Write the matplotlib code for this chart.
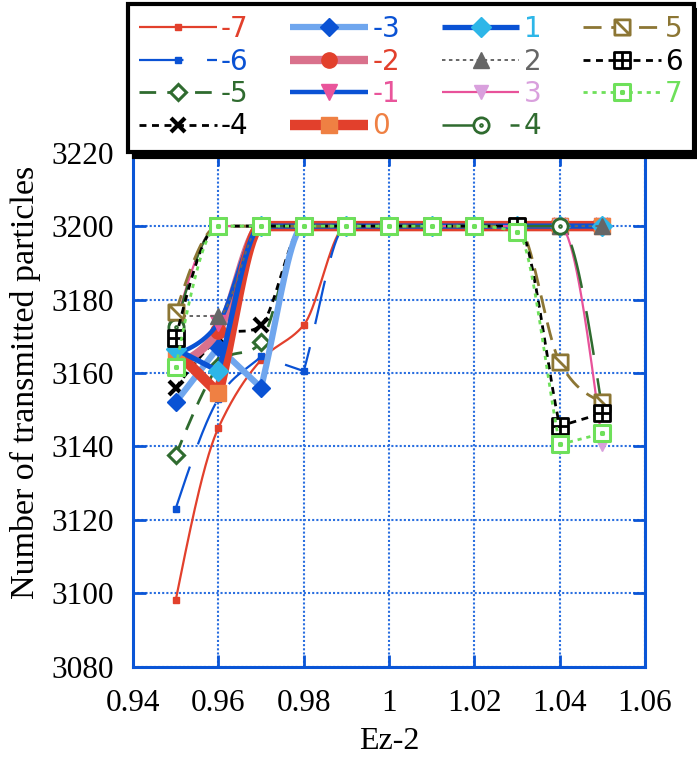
import numpy as np
import matplotlib
matplotlib.use("Agg")
import matplotlib.pyplot as plt
from matplotlib.path import Path
from matplotlib.lines import Line2D
from matplotlib.ticker import MultipleLocator, FuncFormatter

plt.rcParams['lines.scale_dashes'] = False
plt.rcParams['font.family'] = ['Liberation Serif', 'DejaVu Serif']

# Ez-2 scan points
ez = [0.95, 0.96, 0.97, 0.98, 0.99, 1.00, 1.01, 1.02, 1.03, 1.04, 1.05]

# transmitted particles for each setting (-7 ... 7)
n_m7 = [3098, 3145, 3163.5, 3173, 3200, 3200, 3200, 3200, 3200, 3200, 3200]
n_m6 = [3123, 3153, 3164.5, 3160.5, 3200, 3200, 3200, 3200, 3200, 3200, 3200]
n_m5 = [3137.5, 3162, 3168.5, 3200, 3200, 3200, 3200, 3200, 3200, 3200, 3200]
n_m4 = [3156, 3169.5, 3173, 3200, 3200, 3200, 3200, 3200, 3200, 3200, 3200]
n_m3 = [3152, 3167, 3156, 3200, 3200, 3200, 3200, 3200, 3200, 3200, 3200]
n_m2 = [3162, 3171.5, 3200, 3200, 3200, 3200, 3200, 3200, 3200, 3200, 3200]
n_m1 = [3165, 3173.5, 3200, 3200, 3200, 3200, 3200, 3200, 3200, 3200, 3200]
n_0 = [3166, 3154.5, 3200, 3200, 3200, 3200, 3200, 3200, 3200, 3200, 3200]
n_p1 = [3166.5, 3160.5, 3200, 3200, 3200, 3200, 3200, 3200, 3200, 3200, 3200]
n_p2 = [3175.5, 3175.5, 3200, 3200, 3200, 3200, 3200, 3200, 3200, 3200, 3200]
n_p3 = [3173.5, 3200, 3200, 3200, 3200, 3200, 3200, 3200, 3200, 3200, 3140.5]
n_p4 = [3172.5, 3200, 3200, 3200, 3200, 3200, 3200, 3200, 3200, 3200, 3150]
n_p5 = [3176.5, 3200, 3200, 3200, 3200, 3200, 3200, 3200, 3200, 3163, 3152]
n_p6 = [3169.5, 3200, 3200, 3200, 3200, 3200, 3200, 3200, 3200, 3145.5, 3149]
n_p7 = [3161.5, 3200, 3200, 3200, 3200, 3200, 3200, 3200, 3198.5, 3140.5, 3143.5]

labels = ['-7', '-6', '-5', '-4', '-3', '-2', '-1', '0',
          '1', '2', '3', '4', '5', '6', '7']
series = [n_m7, n_m6, n_m5, n_m4, n_m3, n_m2, n_m1, n_0,
          n_p1, n_p2, n_p3, n_p4, n_p5, n_p6, n_p7]


def smooth(x, y, num=40):
    # Akima-type curve: sharp corners at peaks/dips, flat next to flat runs
    x = np.asarray(x, float)
    y = np.asarray(y, float)
    n = len(x)
    d = np.diff(y) / np.diff(x)
    m = np.concatenate([[3 * d[0] - 2 * d[1], 2 * d[0] - d[1]], d,
                        [2 * d[-1] - d[-2], 3 * d[-1] - 2 * d[-2]]])
    tl = np.zeros(n)
    tr = np.zeros(n)
    for i in range(1, n - 1):
        ml, mr = d[i - 1], d[i]
        if ml * mr < 0:
            tl[i], tr[i] = ml, mr
            continue
        if ml == 0 or mr == 0:
            continue
        w1 = abs(m[i + 3] - m[i + 2])
        w2 = abs(m[i + 1] - m[i])
        t = 0.5 * (ml + mr) if w1 + w2 == 0 else (w1 * ml + w2 * mr) / (w1 + w2)
        tl[i] = tr[i] = t
    tr[0] = (3 * d[0] - tl[1]) / 2
    tl[-1] = (3 * d[-1] - tr[-2]) / 2
    xs, ys = [], []
    s = np.linspace(0, 1, num, endpoint=False)
    h00 = 2 * s**3 - 3 * s**2 + 1
    h10 = s**3 - 2 * s**2 + s
    h01 = -2 * s**3 + 3 * s**2
    h11 = s**3 - s**2
    for i in range(n - 1):
        h = x[i + 1] - x[i]
        xs.append(x[i] + s * h)
        ys.append(h00 * y[i] + h10 * h * tr[i] + h01 * y[i + 1] + h11 * h * tl[i + 1])
    xs.append([x[-1]])
    ys.append([y[-1]])
    return np.concatenate(xs), np.concatenate(ys)


# marker shapes
sq = [(-1, -1), (1, -1), (1, 1), (-1, 1), (-1, -1)]
sq_codes = [Path.MOVETO, Path.LINETO, Path.LINETO, Path.LINETO, Path.CLOSEPOLY]
box_diag = Path(sq + [(-1, 1), (1, -1)], sq_codes + [Path.MOVETO, Path.LINETO])
box_cross = Path(sq + [(0, -1), (0, 1), (-1, 0), (1, 0)],
                 sq_codes + [Path.MOVETO, Path.LINETO, Path.MOVETO, Path.LINETO])
dot = [(-0.12, -0.12), (0.12, -0.12), (0.12, 0.12), (-0.12, 0.12), (-0.12, -0.12)]
box_dot = Path(sq + dot, sq_codes + sq_codes)
circ_dot = Path.make_compound_path(Path.unit_circle(), Path.circle((0, 0), 0.12))

RED = '#e2402c'
BLUE = '#0a52d4'
GREEN = '#2f6b2f'

styles = [
    dict(color=RED, lw=1.6, dashes=None, marker='s', ms=4, mfc=RED, mec=RED, mew=1),
    dict(color=BLUE, lw=1.6, dashes=(32, 17), marker='s', ms=4, mfc=BLUE, mec=BLUE, mew=1),
    dict(color=GREEN, lw=2, dashes=(12, 8), marker='D', ms=8, mfc='white', mec=GREEN, mew=2.2),
    dict(color='black', lw=2, dashes=(5, 4), marker='x', ms=10, mfc='black', mec='black', mew=3),
    dict(color='#6fa6ee', lw=4.5, dashes=None, marker='D', ms=9, mfc=BLUE, mec=BLUE, mew=1),
    dict(color='#d9718c', lw=6, dashes=None, marker='o', ms=11, mfc=RED, mec=RED, mew=1),
    dict(color=BLUE, lw=3.2, dashes=None, marker='v', ms=11, mfc='#e9559b', mec='#e9559b', mew=1),
    dict(color=RED, lw=7.5, dashes=None, marker='s', ms=11, mfc='#ef8043', mec='#ef8043', mew=1),
    dict(color=BLUE, lw=3.8, dashes=None, marker='D', ms=10, mfc='#2db6e8', mec='#2db6e8', mew=1),
    dict(color='#666666', lw=1.4, dashes=(2.5, 2.5), marker='^', ms=11, mfc='#666666', mec='#666666', mew=1),
    dict(color='#e8529a', lw=1.6, dashes=None, marker='v', ms=10, mfc='#d9a0dd', mec='#d9a0dd', mew=1),
    dict(color=GREEN, lw=1.8, dashes=(32, 17), marker=circ_dot, ms=11, mfc='white', mec=GREEN, mew=2),
    dict(color='#8c7634', lw=2, dashes=(13, 7), marker=box_diag, ms=11, mfc='white', mec='#8c7634', mew=2),
    dict(color='black', lw=2, dashes=(5, 4), marker=box_cross, ms=11, mfc='white', mec='black', mew=2),
    dict(color='#6ee05a', lw=2, dashes=(3, 3.5), marker=box_dot, ms=11, mfc='white', mec='#6ee05a', mew=2.2),
]
text_colors = [RED, BLUE, GREEN, 'black', BLUE, RED, '#e9559b', '#ef8043',
               '#2db6e8', '#666666', '#d9a0dd', GREEN, '#8c7634', 'black', '#6ee05a']

fig = plt.figure(figsize=(6.97, 7.58), dpi=100)
ax = fig.add_axes([133 / 697, 1 - 666.5 / 758, 512 / 697, 513.8 / 758])

handles = []
for vals, st in zip(series, styles):
    xs, ys = smooth(ez, vals)
    line_kw = dict(color=st['color'], lw=st['lw'])
    if st['dashes'] is not None:
        line_kw['dashes'] = st['dashes']
    mark_kw = dict(marker=st['marker'], ms=st['ms'], mfc=st['mfc'], mec=st['mec'], mew=st['mew'])
    ax.plot(xs, ys, solid_capstyle='butt', dash_capstyle='butt', **line_kw)
    ax.plot(ez, vals, ls='none', **mark_kw)
    handles.append(Line2D([], [], solid_capstyle='butt', dash_capstyle='butt', **line_kw, **mark_kw))

AXC = '#0a55d6'
ax.set_xlim(0.94, 1.06)
ax.set_ylim(3080, 3220)
ax.xaxis.set_major_locator(MultipleLocator(0.02))
ax.yaxis.set_major_locator(MultipleLocator(20))
ax.xaxis.set_major_formatter(FuncFormatter(lambda v, p: '%g' % round(v, 2)))
ax.grid(True, color='#2a6fe0', ls=(0, (1.5, 1.5)), lw=1.5)
for sp in ax.spines.values():
    sp.set_color(AXC)
    sp.set_linewidth(2.2)
ax.tick_params(direction='in', length=9, width=2, color=AXC, right=True, top=True,
               labelsize=22.5)
ax.tick_params(axis='y', pad=14)
ax.tick_params(axis='x', pad=16)
ax.set_xlabel('Ez-2', fontsize=23, labelpad=7)
ax.set_ylabel('Number of transmitted particles', fontsize=24.5)
ax.yaxis.set_label_coords(-0.18, (666.5 - 382) / 513.8)

leg = fig.legend(handles, labels, loc='upper left', bbox_to_anchor=(128 / 697, 1 - 4 / 758),
                 ncol=4, fancybox=False,
                 shadow={'ox': 4, 'oy': -4, 'color': 'black', 'alpha': 1},
                 prop={'family': 'DejaVu Sans', 'size': 20},
                 handlelength=2.8, handletextpad=0.15, columnspacing=1.5,
                 labelspacing=0.16, borderpad=0.4, borderaxespad=0)
leg.get_frame().set_edgecolor('black')
leg.get_frame().set_linewidth(3)
for t, c in zip(leg.get_texts(), text_colors):
    t.set_color(c)

fig.savefig('out.png', dpi=100)
